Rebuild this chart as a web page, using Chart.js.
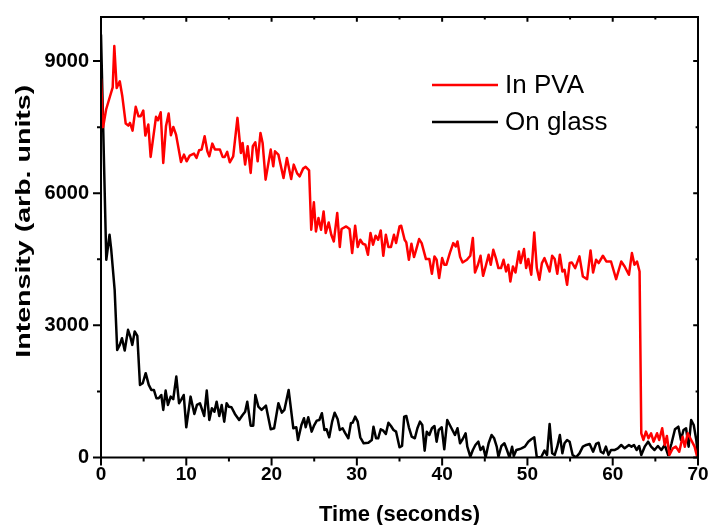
<!DOCTYPE html>
<html>
<head>
<meta charset="utf-8">
<script src="https://cdn.jsdelivr.net/npm/chart.js@4/dist/chart.umd.min.js"></script>
<style>
  html, body { margin: 0; padding: 0; background: #fff; }
  #wrap { width: 711px; height: 525px; position: relative; }
</style>
</head>
<body>
<div id="wrap"><canvas id="plot"></canvas></div>
<script>
// Intensity traces (time in seconds, intensity in arb. units)
var pvaTime = [0, 0.25, 0.6, 1.05, 1.37, 1.56, 1.84, 2.2, 2.5, 2.9, 3.2, 3.4, 3.7, 4.07, 4.4, 4.65, 4.96, 5.2, 5.55, 5.82,
    6.45, 6.68, 7.0, 7.3, 7.62, 7.93, 8.2, 8.48, 8.8, 9.38, 9.73, 10.04, 10.4, 10.9, 11.2, 11.5, 11.8, 12.15, 12.47, 12.7,
    13.05, 13.36, 13.95, 14.26, 14.5, 14.8, 15.1, 15.5, 16.0, 16.4, 16.6, 16.9, 17.2, 17.55, 17.8, 18.1, 18.37, 18.7, 18.95, 19.3,
    19.9, 20.2, 20.4, 20.8, 21.4, 21.8, 22.3, 22.6, 23.0, 23.3, 23.7, 24.0, 24.4, 24.65, 24.96, 25.2, 25.5, 25.8, 26.1, 26.35,
    26.7, 27.0, 27.3, 27.7, 28.0, 28.2, 28.75, 29.15, 29.45, 29.8, 30.1, 30.4, 30.7, 31.0, 31.3, 31.6, 31.9, 32.2, 32.5, 32.8,
    33.1, 33.4, 33.7, 34.0, 34.35, 34.6, 35.0, 35.2, 35.6, 35.8, 36.1, 36.4, 36.7, 36.9, 37.3, 37.6, 38.1, 38.5, 38.8, 39.1,
    39.35, 39.65, 40.0, 40.25, 40.5, 40.9, 41.3, 41.6, 41.8, 42.1, 42.4, 42.9, 43.3, 43.6, 43.85, 44.2, 44.5, 44.8, 45.1, 45.45,
    45.7, 46.0, 46.3, 46.6, 46.9, 47.2, 47.5, 47.75, 48.0, 48.3, 48.6, 49.0, 49.2, 49.6, 49.85, 50.1, 50.45, 50.8, 51.1, 51.4,
    51.7, 52.0, 52.3, 52.6, 52.9, 53.2, 53.5, 53.8, 54.1, 54.35, 54.65, 54.95, 55.2, 55.6, 56.1, 56.5, 57.0, 57.4, 57.7, 58.05,
    58.35, 58.85, 59.25, 59.8, 60.4, 61.0, 61.4, 61.9, 62.25, 62.55, 62.85, 63.15, 63.35, 63.6, 63.9, 64.2, 64.5, 64.8, 65.2, 65.45,
    65.8, 66.1, 66.35, 66.65, 67.05, 67.4, 67.8, 68.2, 68.45, 68.8, 69.2, 69.6, 69.9];
var pvaIntensity = [8600, 7500, 7900, 8195, 8400, 9340, 8390, 8540, 8200, 7580, 7535, 7595, 7420, 7960, 7745, 7745, 7875, 7308, 7558, 6823,
    7733, 7656, 7837, 6687, 7519, 7808, 7315, 7505, 7330, 6710, 6876, 6724, 6853, 6899, 6800, 6974, 6990, 7292, 6951, 6837,
    7126, 6990, 6990, 6823, 6823, 6937, 6701, 6837, 7710, 6914, 7142, 6649, 7065, 6460, 7065, 7156, 6724, 7369, 7142, 6308,
    6990, 6610, 6951, 6876, 6346, 6800, 6323, 6649, 6450, 6383, 6558, 6600, 6519, 5171, 5792, 5133, 5437, 5171, 5587, 5096,
    5337, 5057, 4905, 5551, 4778, 5187, 5246, 5187, 4641, 5262, 4778, 4944, 4853, 4830, 4603, 5096, 4830, 5035, 4944, 5155,
    4580, 5057, 4778, 4778, 5057, 4868, 5246, 5262, 4944, 4882, 4489, 4853, 4550, 4678, 4959, 4868, 4505, 4505, 4171, 4565,
    4489, 4073, 4527, 4376, 4376, 4641, 4868, 4792, 4905, 4560, 4428, 4489, 4580, 4982, 4200, 4376, 4580, 4125, 4336, 4603,
    4376, 4716, 4527, 4300, 4300, 4489, 4223, 4376, 3996, 4336, 4200, 4678, 4414, 4732, 4300, 4505, 4148, 5110, 4300, 4035,
    4414, 4527, 4376, 4223, 4580, 4505, 4171, 4603, 4223, 4262, 3921, 4414, 4428, 4300, 4565, 4110, 4050, 4700, 4200, 4489,
    4414, 4580, 4450, 4450, 4050, 4450, 4336, 4148, 4641, 4376, 4450, 4223, 550, 398, 587, 436, 550, 360, 550, 398,
    664, 284, 489, 57, 209, 246, 132, 473, 246, 550, 398, 246, 18];

var glassTime = [0, 0.62, 1.0, 1.2, 1.6, 1.9, 2.2, 2.46, 2.78, 3.17, 3.43, 3.67, 3.95, 4.26, 4.57, 4.89, 5.24, 5.6, 5.9, 6.2,
    6.5, 6.76, 7.07, 7.3, 7.58, 7.85, 8.17, 8.47, 8.83, 9.15, 9.4, 9.7, 10.0, 10.5, 10.95, 11.25, 11.6, 12.1, 12.4, 12.7,
    13.0, 13.3, 13.56, 13.87, 14.15, 14.45, 14.73, 15.0, 15.3, 15.7, 16.2, 16.6, 16.9, 17.15, 17.55, 17.85, 18.1, 18.45, 18.83, 19.34,
    19.9, 20.3, 20.8, 21.2, 21.5, 22.0, 22.55, 22.9, 23.1, 23.5, 23.8, 24.0, 24.3, 24.7, 24.96, 25.3, 25.6, 25.9, 26.2, 26.45,
    26.76, 27.1, 27.4, 27.75, 28.0, 28.33, 28.6, 29.0, 29.3, 29.5, 29.8, 30.1, 30.4, 30.8, 31.35, 31.75, 31.95, 32.25, 32.5, 32.8,
    33.1, 33.4, 33.7, 34.0, 34.3, 34.6, 35.0, 35.3, 35.55, 35.8, 36.1, 36.43, 36.8, 37.1, 37.4, 37.67, 37.95, 38.2, 38.5, 38.8,
    39.1, 39.35, 39.6, 39.95, 40.25, 40.6, 40.9, 41.2, 41.5, 41.8, 42.1, 42.4, 42.75, 42.95, 43.3, 43.6, 43.9, 44.25, 44.5, 44.8,
    45.1, 45.45, 45.8, 46.1, 46.4, 46.6, 46.95, 47.3, 47.6, 47.9, 48.2, 48.4, 48.7, 49.0, 49.3, 49.7, 50.1, 50.45, 50.8, 51.1,
    51.6, 52.0, 52.3, 52.6, 52.9, 53.2, 53.5, 53.8, 54.1, 54.35, 54.65, 54.95, 55.3, 55.7, 56.1, 56.5, 56.9, 57.3, 57.7, 58.05,
    58.35, 58.6, 58.9, 59.2, 59.5, 59.8, 60.2, 60.6, 61.0, 61.4, 61.9, 62.2, 62.5, 62.8, 63.1, 63.35, 63.75, 64.15, 64.5, 64.9,
    65.3, 65.7, 66.1, 66.5, 66.9, 67.3, 67.7, 68.0, 68.3, 68.6, 68.9, 69.2, 69.5, 69.8, 70.0];
var glassIntensity = [9600, 4489, 5057, 4716, 3807, 2443, 2557, 2709, 2428, 2898, 2746, 2557, 2860, 2762, 1648, 1686, 1914, 1648, 1534, 1534,
    1345, 1345, 1420, 1080, 1519, 1193, 1382, 1323, 1837, 1232, 1307, 1420, 686, 1382, 989, 1193, 1232, 943, 1519, 852,
    1118, 1041, 1268, 943, 1193, 814, 1232, 1150, 1141, 989, 852, 966, 1041, 1268, 723, 723, 1420, 1155, 1080, 1177,
    641, 664, 1232, 1018, 1080, 1534, 664, 686, 398, 739, 891, 686, 914, 587, 716, 837, 852, 1005, 625, 641,
    459, 814, 1018, 868, 625, 664, 564, 436, 777, 791, 927, 814, 459, 323, 336, 398, 700, 436, 436, 641,
    609, 534, 791, 716, 625, 587, 232, 261, 927, 943, 686, 473, 436, 664, 814, 739, 155, 587, 511, 664,
    716, 359, 625, 686, 186, 852, 739, 625, 511, 664, 323, 414, 550, 246, 18, 170, 284, 359, 170, 246,
    5, 323, 511, 436, 246, 18, 261, 323, 170, 0, 246, 34, 170, 186, 209, 246, 359, 414, 459, 5,
    5, 155, 57, 761, 95, 57, 246, 511, 95, 323, 398, 359, 57, 5, 95, 246, 284, 307, 132, 307,
    336, 132, 95, 246, 57, 170, 170, 209, 284, 209, 284, 246, 284, 170, 261, 57, 246, 359, 246, 170,
    261, 170, 284, 57, 323, 641, 700, 398, 625, 664, 246, 852, 739, 398, 5];

var seriesLabels = ['In PVA', 'On glass'];
var seriesColors = ['#ff0000', '#000000'];
var xMajorTicks = [0, 10, 20, 30, 40, 50, 60, 70];
var xMinorTicks = [5, 15, 25, 35, 45, 55, 65];
var yMajorTicks = [0, 3000, 6000, 9000];
var yMinorTicks = [1500, 4500, 7500];
var yTitle = 'Intensity (arb. units)';

var FONT = "'Liberation Sans', Arial, Helvetica, sans-serif";

function toPoints(xs, ys) {
    var pts = [];
    for (var i = 0; i < xs.length; i++) pts.push({ x: xs[i], y: ys[i] });
    return pts;
}

// frame, tick marks (outer on bottom/left, inner on top/right), legend and y title
var frameTicks = {
    id: 'frameTicks',
    afterDraw: function (chart) {
        var ctx = chart.ctx, a = chart.chartArea;
        var xs = chart.scales.x, ys = chart.scales.y;
        ctx.save();
        ctx.strokeStyle = '#000';
        ctx.lineWidth = 2;
        ctx.beginPath();
        ctx.rect(a.left, a.top, a.right - a.left, a.bottom - a.top);
        ctx.stroke();

        function xTick(v, len) {
            var p = xs.getPixelForValue(v);
            ctx.moveTo(p, a.bottom); ctx.lineTo(p, a.bottom + len);
            ctx.moveTo(p, a.top); ctx.lineTo(p, a.top + len * 0.6);
        }
        function yTick(v, len) {
            var p = ys.getPixelForValue(v);
            ctx.moveTo(a.left, p); ctx.lineTo(a.left - len, p);
            ctx.moveTo(a.right, p); ctx.lineTo(a.right - len * 0.6, p);
        }
        ctx.beginPath();
        xMajorTicks.forEach(function (v) { xTick(v, 8); });
        xMinorTicks.forEach(function (v) { xTick(v, 4); });
        yMajorTicks.forEach(function (v) { yTick(v, 8); });
        yMinorTicks.forEach(function (v) { yTick(v, 4); });
        ctx.stroke();

        // legend
        var lx = 432, ly = [85, 122];
        ctx.font = '26px ' + FONT;
        ctx.textBaseline = 'middle';
        ctx.lineWidth = 2.5;
        for (var i = 0; i < seriesLabels.length; i++) {
            ctx.strokeStyle = seriesColors[i];
            ctx.beginPath();
            ctx.moveTo(lx, ly[i]); ctx.lineTo(lx + 66, ly[i]);
            ctx.stroke();
            ctx.fillStyle = '#000';
            ctx.fillText(seriesLabels[i], lx + 73, ly[i] + 1);
        }

        // y axis title, stretched along its length like the original
        ctx.font = 'bold 21px ' + FONT;
        ctx.textAlign = 'center';
        ctx.fillStyle = '#000';
        ctx.translate(24, (a.top + a.bottom) / 2 - 16);
        ctx.rotate(-Math.PI / 2);
        ctx.scale(273 / ctx.measureText(yTitle).width, 1);
        ctx.fillText(yTitle, 0, 0);
        ctx.restore();
    }
};

new Chart(document.getElementById('plot'), {
    type: 'line',
    data: {
        datasets: [
            { label: seriesLabels[0], data: toPoints(pvaTime, pvaIntensity), borderColor: seriesColors[0], borderWidth: 2.5 },
            { label: seriesLabels[1], data: toPoints(glassTime, glassIntensity), borderColor: seriesColors[1], borderWidth: 2.5 }
        ]
    },
    options: {
        responsive: true,
        maintainAspectRatio: false,
        animation: false,
        elements: { point: { radius: 0 }, line: { tension: 0, borderJoinStyle: 'round' } },
        layout: { padding: { left: 0, right: 13, top: 17, bottom: 0 } },
        plugins: { legend: { display: false }, tooltip: { enabled: false } },
        scales: {
            x: {
                type: 'linear', min: 0, max: 70,
                grid: { display: false, drawTicks: false },
                border: { display: false },
                afterBuildTicks: function (s) {
                    s.ticks = xMajorTicks.map(function (v) { return { value: v }; });
                },
                ticks: { autoSkip: false, padding: 6, color: '#000',
                    font: { family: FONT, size: 19, weight: 'bold' } },
                title: { display: true, text: 'Time (seconds)', color: '#000', padding: { top: 4, bottom: -3 },
                    font: { family: FONT, size: 22, weight: 'bold' } },
                afterFit: function (s) {
                    s.height = 67.5;
                    s.paddingLeft = 0; s.paddingRight = 0;
                }
            },
            y: {
                type: 'linear', min: 0, max: 10000,
                grid: { display: false, drawTicks: false },
                border: { display: false },
                afterBuildTicks: function (s) {
                    s.ticks = yMajorTicks.map(function (v) { return { value: v }; });
                },
                ticks: { autoSkip: false, padding: 12, color: '#000',
                    font: { family: FONT, size: 20, weight: 'bold' },
                    callback: function (v) { return String(v); } },
                title: { display: false, text: yTitle },
                afterFit: function (s) {
                    s.width = 101;
                    s.paddingTop = 0; s.paddingBottom = 0;
                }
            }
        }
    },
    plugins: [frameTicks]
});
</script>
</body>
</html>
